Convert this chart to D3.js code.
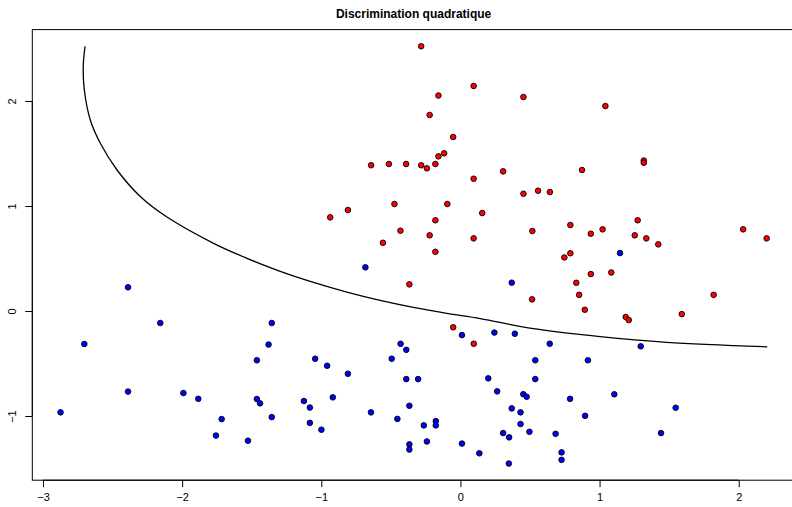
<!DOCTYPE html>
<html>
<head>
<meta charset="utf-8">
<script src="https://cdn.jsdelivr.net/npm/d3@7"></script>
<style>
  html, body { margin: 0; padding: 0; background: #fff; }
  svg { display: block; font-family: "Liberation Sans", Arial, sans-serif; }
</style>
</head>
<body>
<svg id="chart" width="792" height="507"></svg>
<script>
// ---- Data ----
const chartTitle = "Discrimination quadratique";

// Class 1 (red)
const redX = [-0.282, 0.095, -0.158, 0.453, 1.042, -0.221, -0.052, -0.117, -0.158, -0.642,
  -0.514, -0.390, -0.282, -0.241, -0.180, 0.307, 0.095, 0.874, 1.318, 1.318,
  0.453, 0.558, 0.643, -0.474, -0.094, -0.809, -0.936, 0.157, -0.180, -0.431,
  -0.221, 0.095, -0.557, -0.180, 0.517, 0.790, 0.937, 1.022, 1.253, 1.274,
  1.336, 1.422, 2.032, 2.201, 0.747, 0.790, 0.937, 1.084, 0.833, 0.853,
  0.515, 1.820, 0.894, 1.591, 1.188, 1.210, -0.367, -0.052, 0.096];
const redY = [2.521, 2.143, 2.052, 2.038, 1.952, 1.867, 1.657, 1.502, 1.473, 1.388,
  1.400, 1.400, 1.388, 1.359, 1.400, 1.330, 1.260, 1.343, 1.433, 1.412,
  1.117, 1.146, 1.133, 1.019, 1.019, 0.962, 0.892, 0.933, 0.864, 0.765,
  0.721, 0.692, 0.650, 0.564, 0.762, 0.819, 0.736, 0.778, 0.721, 0.864,
  0.692, 0.635, 0.778, 0.692, 0.510, 0.550, 0.352, 0.367, 0.269, 0.154,
  0.111, 0.154, 0.012, -0.029, -0.057, -0.086, 0.254, -0.155, -0.311];

// Class 2 (blue)
const blueX = [-2.389, -2.157, -2.703, -2.389, -1.991, -1.884, -2.874, -1.716, -1.757, -1.527,
  -1.463, -1.379, -1.356, -1.463, -1.440, -1.356, -1.125, -1.082, -1.082, -0.999,
  -1.044, -0.958, -0.809, -0.917, -0.683, -0.643, -0.494, -0.453, -0.430, -0.389,
  -0.389, -0.304, -0.367, -0.263, -0.367, -0.367, -0.241, -0.177, -0.177, 0.011,
  0.244, 0.391, 0.642, 1.296, 0.538, 0.916, 0.200, 0.538, 0.264, 0.452,
  0.476, 1.106, 0.788, 0.369, 0.432, 0.896, 1.547, 0.432, 0.307, 0.350,
  0.496, 0.684, 1.442, 0.011, 0.136, 0.727, 0.727, 0.348, 0.369, 1.147];
const blueY = [0.226, -0.114, -0.314, -0.767, -0.781, -0.836, -0.965, -1.029, -1.186, -1.235,
  -0.469, -0.319, -0.114, -0.838, -0.879, -1.010, -0.857, -0.919, -1.065, -1.130,
  -0.454, -0.521, -0.597, -0.822, 0.416, -0.965, -0.454, -1.027, -0.312, -0.369,
  -0.648, -0.648, -0.902, -1.089, -1.270, -1.319, -1.242, -1.048, -1.089, -0.229,
  -0.205, -0.216, -0.311, -0.336, -0.469, -0.469, -0.641, -0.648, -0.765, -0.792,
  -0.816, -0.793, -0.836, -0.927, -0.965, -0.998, -0.921, -1.076, -1.162, -1.203,
  -1.150, -1.169, -1.162, -1.262, -1.355, -1.346, -1.417, -1.452, 0.270, 0.552];

// Quadratic decision boundary (traced)
const boundaryX = [-2.698, -2.711, -2.703, -2.660, -2.588, -2.468, -2.301, -2.109, -1.774,
  -1.534, -1.295, -1.056, -0.816, -0.577, -0.338, -0.098, 0.142, 0.524, 1.004, 1.483, 2.205];
const boundaryY = [2.521, 2.327, 2.105, 1.819, 1.597, 1.343, 1.091, 0.895, 0.645,
  0.502, 0.378, 0.273, 0.181, 0.102, 0.035, -0.022, -0.072, -0.168, -0.244, -0.298, -0.341];

const xTicks = [-3, -2, -1, 0, 1, 2];
const yTicks = [-1, 0, 1, 2];

// ---- Layout ----
const W = 792, H = 507;
const margin = { left: 32.3, top: 29.6, right: -2.9, bottom: 26.8 };
const svg = d3.select("#chart");

// R-style 4% axis extension
const allX = redX.concat(blueX), allY = redY.concat(blueY);
function rExt(v) {
  const e = d3.extent(v), d = (e[1] - e[0]) * 0.04;
  return [e[0] - d, e[1] + d];
}
const x = d3.scaleLinear().domain(rExt(allX)).range([margin.left, W - margin.right]);
const y = d3.scaleLinear().domain(rExt(allY)).range([H - margin.bottom, margin.top]);

const fmt = d => d3.format("d")(d).replace("-", "\u2212");

// Title
svg.append("text")
  .attr("x", (x.range()[0] + x.range()[1]) / 2)
  .attr("y", 18)
  .attr("text-anchor", "middle")
  .attr("font-weight", "bold")
  .attr("font-size", 12)
  .text(chartTitle);

// X axis (bottom)
const xAxis = d3.axisBottom(x).tickValues(xTicks).tickSize(7).tickPadding(6).tickFormat(fmt);
const gx = svg.append("g").attr("transform", `translate(0,${y.range()[0]})`).call(xAxis);
gx.select(".domain").attr("d", `M${x(xTicks[0])},0H${x(xTicks[xTicks.length - 1])}`).attr("stroke", "#000");
gx.selectAll(".tick line").attr("stroke", "#000");
gx.selectAll(".tick text").attr("font-size", 11).attr("font-family", "Liberation Sans, Arial, sans-serif").attr("fill", "#000");

// Y axis (left), labels rotated as in R
const yAxis = d3.axisLeft(y).tickValues(yTicks).tickSize(7).tickFormat(fmt);
const gy = svg.append("g").attr("transform", `translate(${x.range()[0]},0)`).call(yAxis);
gy.select(".domain").attr("d", `M0,${y(yTicks[0])}V${y(yTicks[yTicks.length - 1])}`).attr("stroke", "#000");
gy.selectAll(".tick line").attr("stroke", "#000");
gy.selectAll(".tick text")
  .attr("x", null).attr("dy", null)
  .attr("font-size", 11).attr("font-family", "Liberation Sans, Arial, sans-serif").attr("fill", "#000")
  .attr("text-anchor", "middle")
  .attr("transform", "translate(-16,0) rotate(-90)");

// Box
svg.append("rect")
  .attr("x", x.range()[0]).attr("y", y.range()[1])
  .attr("width", x.range()[1] - x.range()[0])
  .attr("height", y.range()[0] - y.range()[1])
  .attr("fill", "none").attr("stroke", "#000").attr("stroke-width", 1);

// Boundary curve
const boundary = boundaryX.map((d, i) => [d, boundaryY[i]]);
svg.append("path")
  .datum(boundary)
  .attr("fill", "none")
  .attr("stroke", "#000")
  .attr("stroke-width", 1.3)
  .attr("d", d3.line().x(d => x(d[0])).y(d => y(d[1])).curve(d3.curveCatmullRom.alpha(0.5)));

// Points
const blueData = blueX.map((d, i) => ({ x: d, y: blueY[i] }));
const redData = redX.map((d, i) => ({ x: d, y: redY[i] }));
function drawPts(data, col) {
  svg.append("g").selectAll("circle").data(data).join("circle")
    .attr("cx", d => x(d.x)).attr("cy", d => y(d.y))
    .attr("r", 2.8)
    .attr("fill", col).attr("stroke", "#000").attr("stroke-width", 0.9);
}
drawPts(redData, "#FF0000");
drawPts(blueData, "#0000FF");
</script>
</body>
</html>
